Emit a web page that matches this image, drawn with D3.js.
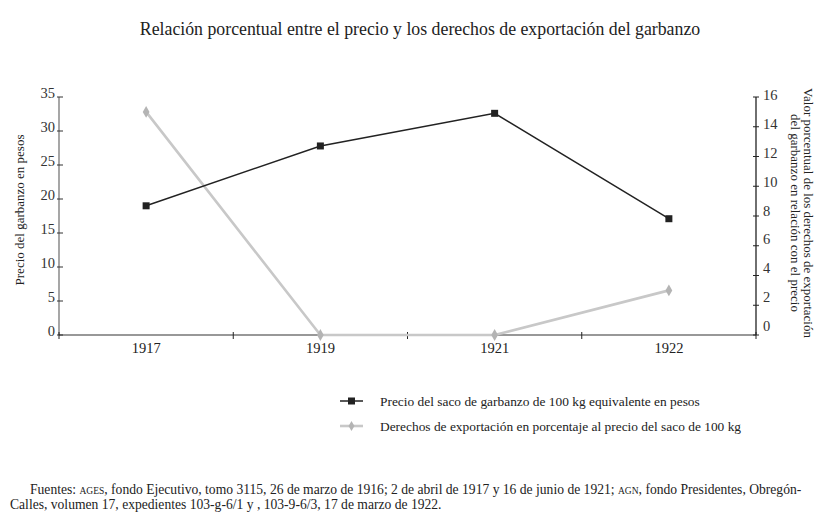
<!DOCTYPE html>
<html>
<head>
<meta charset="utf-8">
<script src="https://cdn.jsdelivr.net/npm/d3@7"></script>
<style>
  body { margin: 0; background: #fff; }
  svg { font-family: "Liberation Serif", "DejaVu Serif", serif; }
</style>
</head>
<body>
<div id="chart"></div>
<script>
const width = 825;
const height = 523;

// data
const years = ["1917", "1919", "1921", "1922"];
const precio = [19, 27.8, 32.6, 17.1];       // pesos, left axis
const derechos = [15, 0, 0, 3];               // %, right axis
const leftTicks = [0, 5, 10, 15, 20, 25, 30, 35];
const rightTicks = [0, 2, 4, 6, 8, 10, 12, 14, 16];

const svg = d3.select("#chart")
    .append("svg")
    .attr("width", width)
    .attr("height", height);

const x0 = 59, x1 = 756, yTop = 97, yBot = 335;

const x = d3.scaleBand().domain(years).range([x0, x1]);
const yL = d3.scaleLinear().domain([0, 35]).range([yBot, yTop]);
const yR = d3.scaleLinear().domain([0, 16]).range([yBot, yTop]);

svg.append("text")
    .attr("x", 420).attr("y", 35)
    .attr("text-anchor", "middle")
    .attr("font-size", 17.8)
    .attr("fill", "#222")
    .text("Relación porcentual entre el precio y los derechos de exportación del garbanzo");

// left axis
const gL = svg.append("g").attr("transform", `translate(${x0},0)`);
gL.append("line").attr("y1", yTop).attr("y2", yBot).attr("stroke", "#777").attr("stroke-width", 1.3);
gL.selectAll("line.t").data(leftTicks).join("line")
    .attr("class", "t")
    .attr("x1", -2).attr("x2", 4)
    .attr("y1", d => yL(d)).attr("y2", d => yL(d))
    .attr("stroke", "#333");
gL.selectAll("text").data(leftTicks).join("text")
    .attr("x", -4).attr("y", d => yL(d) + 1)
    .attr("text-anchor", "end")
    .attr("font-size", 14.5)
    .attr("fill", "#333")
    .text(d => d);

// right axis (labels in the reference sit a little higher toward the bottom)
const gR = svg.append("g").attr("transform", `translate(${x1},0)`);
gR.append("line").attr("y1", yTop).attr("y2", yBot).attr("stroke", "#222").attr("stroke-width", 1.3);
gR.selectAll("line.t").data(rightTicks).join("line")
    .attr("class", "t")
    .attr("x1", -3).attr("x2", 3)
    .attr("y1", d => yR(d)).attr("y2", d => yR(d))
    .attr("stroke", "#222");
gR.selectAll("text").data(rightTicks).join("text")
    .attr("x", 7).attr("y", d => yR(d) + 3 - (16 - d) / 16 * 7)
    .attr("text-anchor", "start")
    .attr("font-size", 14.5)
    .attr("fill", "#333")
    .text(d => d);

// x axis
const gX = svg.append("g").attr("transform", `translate(0,${yBot})`);
gX.append("line").attr("x1", x0).attr("x2", x1).attr("stroke", "#333").attr("stroke-width", 1.2);
const bounds = years.map(d => x(d)).concat([x1]);
gX.selectAll("line.t").data(bounds).join("line")
    .attr("class", "t")
    .attr("x1", d => d).attr("x2", d => d)
    .attr("y1", -3).attr("y2", 4)
    .attr("stroke", "#222");
gX.selectAll("text").data(years).join("text")
    .attr("x", d => x(d) + x.bandwidth() / 2)
    .attr("y", 18)
    .attr("text-anchor", "middle")
    .attr("font-size", 14.5)
    .attr("fill", "#222")
    .text(d => d);

// axis titles
svg.append("text")
    .attr("transform", "translate(24,210) rotate(-90)")
    .attr("text-anchor", "middle")
    .attr("font-size", 13)
    .attr("fill", "#222")
    .text("Precio del garbanzo en pesos");

const rt = svg.append("text")
    .attr("transform", "translate(804,213) rotate(90)")
    .attr("text-anchor", "middle")
    .attr("font-size", 13)
    .attr("fill", "#222");
rt.append("tspan").attr("x", 0).attr("y", 0).text("Valor porcentual de los derechos de exportación");
rt.append("tspan").attr("x", 0).attr("y", 13).text("del garbanzo en relación con el precio");

const cx = d => x(d) + x.bandwidth() / 2;

// derechos series (grey)
const dPts = years.map((d, i) => [cx(d), yR(derechos[i])]);
svg.append("path")
    .attr("d", d3.line()(dPts))
    .attr("fill", "none")
    .attr("stroke", "#c8c8c8")
    .attr("stroke-width", 2.6);
svg.selectAll("path.dm").data(dPts).join("path")
    .attr("class", "dm")
    .attr("transform", d => `translate(${d[0]},${d[1]})`)
    .attr("d", d3.symbol(d3.symbolDiamond, 40)())
    .attr("fill", "#b4b4b4");

// precio series (black)
const pPts = years.map((d, i) => [cx(d), yL(precio[i])]);
svg.append("path")
    .attr("d", d3.line()(pPts))
    .attr("fill", "none")
    .attr("stroke", "#222")
    .attr("stroke-width", 1.5);
svg.selectAll("rect.pm").data(pPts).join("rect")
    .attr("class", "pm")
    .attr("x", d => d[0] - 3.5).attr("y", d => d[1] - 3.5)
    .attr("width", 7).attr("height", 7)
    .attr("fill", "#222");

// legend
const legend = [
    { label: "Precio del saco de garbanzo de 100 kg equivalente en pesos", color: "#222", w: 1.5, sym: "sq" },
    { label: "Derechos de exportación en porcentaje al precio del saco de 100 kg", color: "#c8c8c8", w: 2.6, sym: "di" }
];
const gLeg = svg.append("g").attr("transform", "translate(340,401)");
legend.forEach((l, i) => {
    const g = gLeg.append("g").attr("transform", `translate(0,${i * 25})`);
    g.append("line").attr("x1", 0).attr("x2", 23).attr("stroke", l.color).attr("stroke-width", l.w);
    if (l.sym === "sq") {
        g.append("rect").attr("x", 8).attr("y", -3.5).attr("width", 7).attr("height", 7).attr("fill", "#222");
    } else {
        g.append("path").attr("transform", "translate(11.5,0)")
            .attr("d", d3.symbol(d3.symbolDiamond, 30)()).attr("fill", "#b4b4b4");
    }
    g.append("text").attr("x", 40).attr("y", 4.5)
        .attr("font-size", 13.4).attr("fill", "#222").text(l.label);
});

// sources
const src = svg.append("g").attr("font-size", 13.6).attr("fill", "#222");
const l1 = src.append("text").attr("x", 30).attr("y", 494);
l1.append("tspan").text("Fuentes: ");
l1.append("tspan").attr("font-size", 9.5).text("AGES");
l1.append("tspan").text(", fondo Ejecutivo, tomo 3115, 26 de marzo de 1916; 2 de abril de 1917 y 16 de junio de 1921; ");
l1.append("tspan").attr("font-size", 9.5).text("AGN");
l1.append("tspan").text(", fondo Presidentes, Obregón-");
src.append("text").attr("x", 10).attr("y", 509)
    .text("Calles, volumen 17, expedientes 103-g-6/1 y , 103-9-6/3, 17 de marzo de 1922.");
</script>
</body>
</html>
